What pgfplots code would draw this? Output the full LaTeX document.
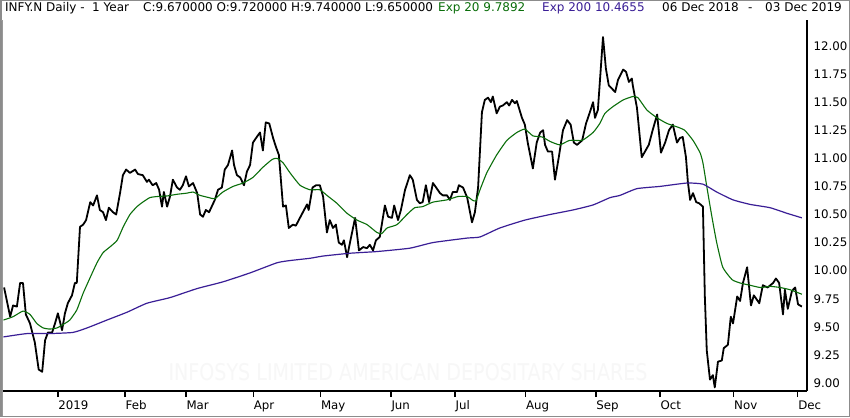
\documentclass[border=0pt]{standalone}
\usepackage{fontspec}
\setmainfont{DejaVu Sans}
\usepackage{pgfplots}
\pgfplotsset{compat=1.18}
\definecolor{emagreen}{HTML}{0A6E0A}
\definecolor{emapurple}{HTML}{3A1E96}
\begin{document}
\begin{tikzpicture}[x=1pt,y=1pt]
\useasboundingbox (0,0) rectangle (850,417);
\fill[white] (0,0) rectangle (850,417);
\node[text=black!3, font=\fontsize{23}{23}\selectfont, inner sep=0] at (408,45) {\scalebox{0.83}[1]{INFOSYS LIMITED AMERICAN DEPOSITARY SHARES}};
\begin{axis}[
  at={(3pt,26pt)}, anchor=south west, scale only axis,
  width=804pt, height=371pt,
  xmin=-0.14, xmax=250.9, ymin=8.9286, ymax=12.2314,
  axis x line*=bottom, axis y line*=right,
  axis line style={line width=1.6pt,-},
  tick align=outside, major tick length=6pt,
  xtick={17,38,57,78,99,121,141,163,185,205,228,248},
  xticklabels={2019,Feb,Mar,Apr,May,Jun,Jul,Aug,Sep,Oct,Nov,Dec},
  xtick style={line width=1.4pt, black},
  ytick={9,9.25,9.5,9.75,10,10.25,10.5,10.75,11,11.25,11.5,11.75,12},
  ytick style={draw=none},
  ticklabel style={font=\fontsize{11.8}{13}\selectfont},
  xticklabel style={anchor=north west, xshift=-3pt},
  yticklabel style={anchor=west, xshift=-3pt, /pgf/number format/.cd, fixed, fixed zerofill, precision=2, assume math mode=true},
  clip=false,
]
\addplot[black, line width=1.8pt, line join=round] coordinates {
(0.2,9.85)(2.1,9.59)(3.0,9.69)(4.2,9.68)(5.2,9.89)(6.1,9.89)(7.0,9.61)(8.3,9.53)(9.8,9.36)(11.0,9.12)(12.1,9.10)
(13.0,9.38)(13.9,9.45)(15.2,9.45)(16.1,9.53)(17.0,9.62)(18.3,9.47)(19.2,9.62)(20.1,9.71)(21.4,9.78)(22.3,9.89)(22.9,9.89)
(23.9,10.39)(24.9,10.41)(25.8,10.45)(27.1,10.61)(28.0,10.58)(29.2,10.67)(30.1,10.54)(31.1,10.52)(32.0,10.45)(32.9,10.56)
(34.2,10.52)(35.2,10.50)(36.4,10.69)(37.3,10.85)(38.3,10.90)(39.5,10.87)(41.1,10.90)(42.0,10.86)(43.5,10.85)(44.8,10.79)
(45.4,10.81)(46.6,10.76)(47.7,10.78)(48.6,10.72)(49.5,10.57)(50.1,10.70)(51.1,10.57)(52.0,10.66)(52.9,10.81)(54.2,10.74)
(55.1,10.72)(56.0,10.76)(57.0,10.84)(57.9,10.75)(59.2,10.78)(60.5,10.69)(61.4,10.50)(62.3,10.48)(63.2,10.54)(64.2,10.52)
(66.0,10.63)(67.0,10.72)(68.2,10.74)(69.1,10.90)(70.1,10.94)(71.4,11.07)(72.0,10.94)(72.9,10.85)(73.9,10.83)(75.1,10.76)
(76.0,10.88)(77.0,10.94)(77.9,11.14)(79.1,11.19)(80.1,11.23)(81.0,11.07)(81.9,11.32)(83.0,11.31)(84.2,11.18)(85.1,11.10)
(86.0,11.03)(87.3,10.57)(88.2,10.58)(89.1,10.38)(90.4,10.41)(91.3,10.40)(92.2,10.45)(93.5,10.52)(94.8,10.59)(95.3,10.54)
(96.5,10.74)(97.6,10.76)(98.8,10.76)(99.8,10.66)(101.0,10.34)(101.9,10.45)(102.9,10.38)(103.8,10.41)(104.7,10.25)(105.7,10.23)
(106.3,10.27)(107.3,10.12)(108.2,10.25)(109.8,10.47)(111.0,10.18)(112.3,10.21)(113.5,10.20)(114.4,10.23)(115.4,10.18)(116.3,10.27)
(117.5,10.30)(119.1,10.58)(120.1,10.48)(121.3,10.47)(122.0,10.58)(123.2,10.45)(124.1,10.54)(125.4,10.72)(126.9,10.85)(127.8,10.81)
(129.1,10.63)(130.0,10.60)(130.9,10.61)(131.9,10.76)(132.9,10.61)(134.1,10.78)(135.1,10.74)(136.3,10.69)(137.2,10.67)(138.5,10.67)
(139.4,10.63)(140.3,10.70)(141.6,10.70)(142.2,10.76)(143.5,10.74)(144.8,10.65)(146.3,10.43)(147.2,10.52)(148.2,10.74)(149.4,11.41)
(150.3,11.52)(151.3,11.54)(152.2,11.50)(152.8,11.55)(154.0,11.40)(155.0,11.46)(155.9,11.47)(157.2,11.50)(157.9,11.47)(158.8,11.52)
(159.7,11.49)(160.3,11.51)(161.9,11.36)(162.8,11.30)(163.7,11.14)(165.3,10.91)(166.5,11.14)(167.6,11.23)(168.5,11.25)(169.1,11.12)
(170.0,11.06)(171.3,11.06)(172.2,10.81)(173.4,11.01)(174.7,11.25)(176.0,11.34)(177.1,11.30)(178.1,11.14)(179.1,11.12)(180.7,11.16)
(181.9,11.31)(183.1,11.41)(184.1,11.50)(184.7,11.36)(185.6,11.43)(187.2,12.08)(188.1,11.80)(189.0,11.65)(191.0,11.59)(191.9,11.70)
(193.5,11.79)(194.4,11.77)(195.3,11.68)(196.2,11.71)(196.5,11.65)(197.8,11.45)(199.3,11.01)(200.3,11.06)(201.5,11.12)(202.7,11.25)
(204.1,11.39)(205.3,11.05)(206.6,11.14)(207.8,11.25)(209.0,11.30)(210.3,11.14)(211.2,11.18)(212.1,11.19)(213.1,11.01)(213.7,10.79)
(214.4,10.63)(215.3,10.69)(216.3,10.61)(217.2,10.60)(218.4,10.57)(219.0,9.77)(219.6,9.29)(220.6,9.03)(221.5,9.07)(222.1,8.96)
(223.1,9.19)(224.3,9.20)(224.9,9.31)(226.2,9.34)(227.1,9.59)(227.8,9.53)(229.1,9.77)(230.0,9.73)(230.9,9.89)(232.2,10.03)
(233.4,9.69)(234.3,9.78)(236.0,9.71)(237.1,9.87)(238.6,9.85)(240.3,9.89)(241.2,9.93)(242.2,9.89)(243.4,9.61)(244.0,9.83)
(244.9,9.66)(246.2,9.82)(247.2,9.85)(248.1,9.70)(249.3,9.68)
};
\addplot[emagreen, line width=1.1pt, smooth, tension=0.3] coordinates {
(0.0,9.56)(3.0,9.59)(6.1,9.64)(8.3,9.61)(10.4,9.53)(12.4,9.49)(14.5,9.48)(16.7,9.49)(18.6,9.52)(20.7,9.56)(22.9,9.65)
(24.9,9.80)(27.1,9.94)(29.2,10.07)(31.1,10.16)(33.2,10.21)(35.5,10.27)(37.4,10.39)(39.5,10.50)(41.7,10.57)(43.5,10.61)
(45.7,10.65)(48.0,10.66)(51.1,10.665)(54.2,10.68)(57.3,10.69)(59.2,10.70)(61.4,10.67)(64.2,10.65)(66.0,10.64)(68.5,10.70)
(71.7,10.75)(74.8,10.78)(77.9,10.83)(81.0,10.92)(83.9,10.99)(85.4,11.00)(87.3,10.96)(89.5,10.87)(92.6,10.76)(95.7,10.72)
(98.8,10.72)(101.0,10.67)(104.1,10.60)(107.3,10.51)(110.4,10.45)(113.5,10.41)(116.6,10.34)(118.1,10.33)(119.8,10.38)(122.9,10.41)
(126.0,10.50)(128.4,10.56)(130.9,10.57)(134.1,10.61)(138.5,10.63)(141.9,10.66)(144.8,10.66)(146.3,10.63)(147.5,10.62)(148.8,10.72)
(150.9,10.87)(154.0,11.03)(157.2,11.16)(160.3,11.23)(162.8,11.26)(165.3,11.20)(168.2,11.19)(170.7,11.15)(173.7,11.12)(176.8,11.16)
(180.7,11.16)(184.1,11.23)(186.2,11.31)(187.8,11.40)(190.3,11.46)(193.5,11.52)(196.5,11.55)(198.1,11.54)(200.9,11.43)(204.1,11.36)
(207.2,11.31)(210.3,11.28)(212.7,11.25)(215.3,11.16)(217.5,11.05)(218.4,10.96)(219.6,10.75)(221.2,10.48)(222.7,10.25)(224.6,10.03)
(227.5,9.92)(230.0,9.89)(233.1,9.87)(236.3,9.85)(239.4,9.86)(242.5,9.85)(245.6,9.83)(249.3,9.79)
};
\addplot[emapurple, line width=1.2pt, smooth, tension=0.3] coordinates {
(0.0,9.41)(7.4,9.44)(14.5,9.44)(21.7,9.45)(26.1,9.49)(32.3,9.56)(38.6,9.63)(44.8,9.71)(52.0,9.76)(60.4,9.84)(68.5,9.90)
(77.0,9.98)(85.4,10.07)(89.5,10.09)(95.7,10.11)(99.8,10.13)(108.2,10.155)(116.6,10.17)(126.9,10.20)(134.1,10.25)(144.8,10.29)
(148.8,10.30)(155.0,10.38)(162.8,10.45)(170.7,10.50)(177.8,10.54)(184.1,10.585)(189.4,10.65)(192.5,10.67)(197.8,10.73)(205.0,10.75)
(213.4,10.78)(218.4,10.77)(222.7,10.70)(227.8,10.63)(233.1,10.59)(239.4,10.56)(244.7,10.51)(249.3,10.47)
};
\end{axis}
\draw[black!45, line width=1.5pt] (0.75,0.75) rectangle (849.25,416.25);
\draw[black!40, line width=1pt] (2.5,0.75) -- (2.5,396) -- (0.75,396);
\begin{scope}[every node/.style={anchor=base west, inner sep=0, font=\fontsize{12}{14}\selectfont}]
\node at (5,405.3) {INFY.N Daily -};
\node at (92,405.3) {1 Year};
\node at (143,405.3) {C:9.670000 O:9.720000 H:9.740000 L:9.650000};
\node[text=emagreen] at (438,405.3) {Exp 20 9.7892};
\node[text=emapurple] at (542,405.3) {Exp 200 10.4655};
\node at (662,405.3) {06 Dec 2018};
\node at (748,405.3) {-};
\node at (765,405.3) {03 Dec 2019};
\end{scope}
\end{tikzpicture}
\end{document}
